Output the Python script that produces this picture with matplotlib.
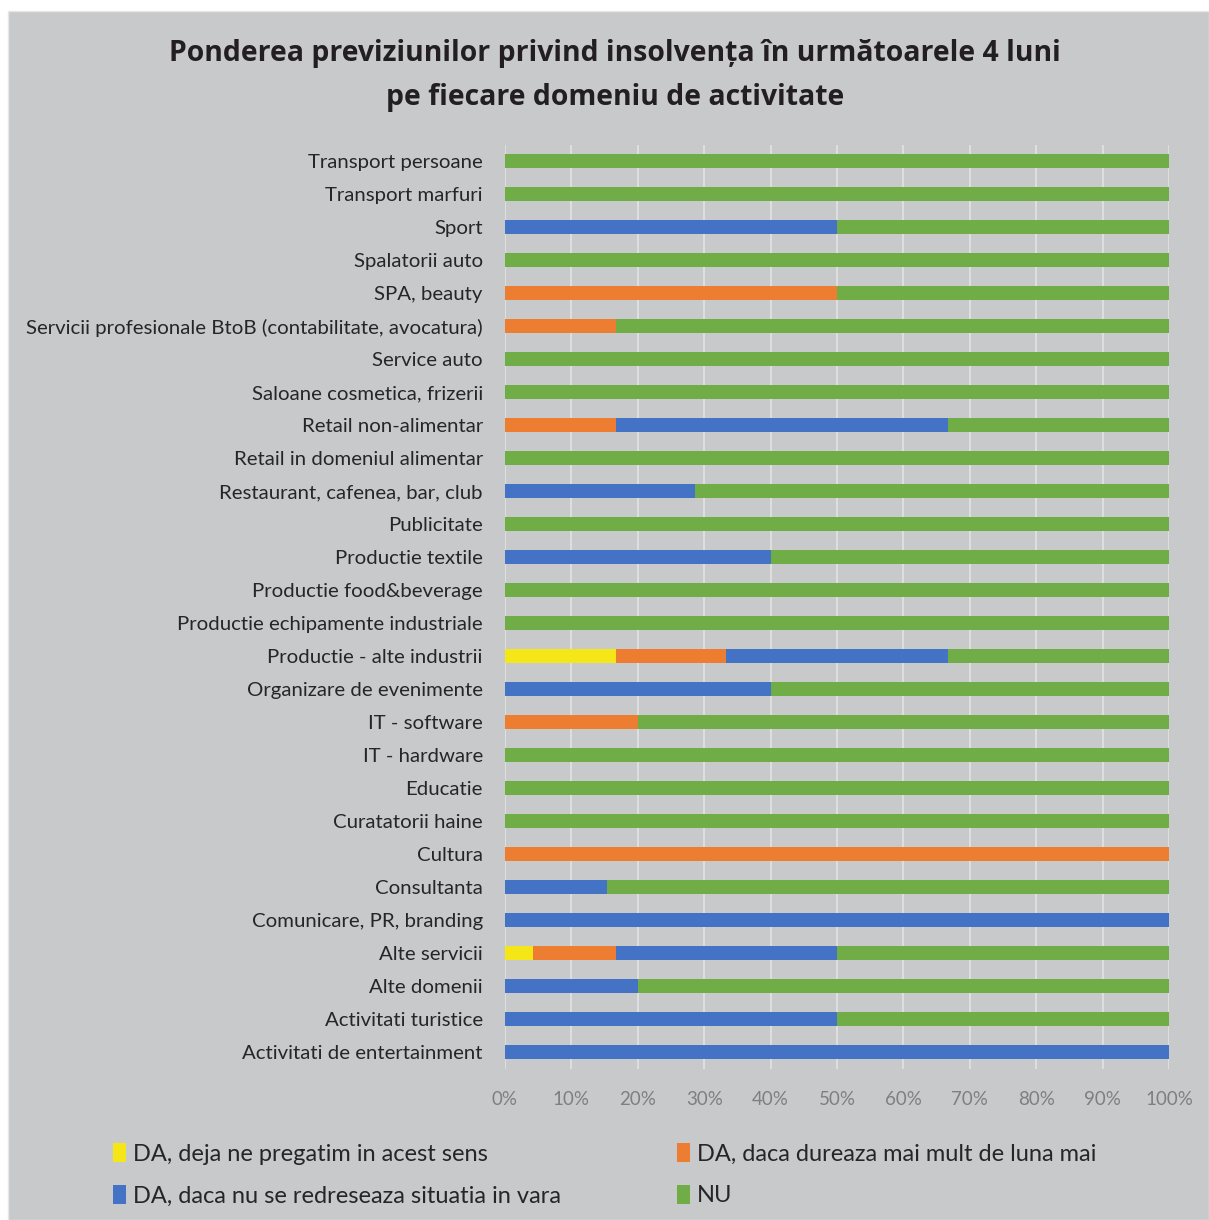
import numpy as np
import matplotlib.pyplot as plt
from matplotlib.patches import Rectangle, Patch

plt.rcParams['font.family'] = ['Lato', 'DejaVu Sans']

domenii = [
    'Transport persoane', 'Transport marfuri', 'Sport', 'Spalatorii auto',
    'SPA, beauty', 'Servicii profesionale BtoB (contabilitate, avocatura)',
    'Service auto', 'Saloane cosmetica, frizerii', 'Retail non-alimentar',
    'Retail in domeniul alimentar', 'Restaurant, cafenea, bar, club',
    'Publicitate', 'Productie textile', 'Productie food&beverage',
    'Productie echipamente industriale', 'Productie - alte industrii',
    'Organizare de evenimente', 'IT - software', 'IT - hardware', 'Educatie',
    'Curatatorii haine', 'Cultura', 'Consultanta', 'Comunicare, PR, branding',
    'Alte servicii', 'Alte domenii', 'Activitati turistice',
    'Activitati de entertainment',
]

# procente pe fiecare raspuns, in ordinea domeniilor de mai sus
da_deja = [0, 0, 0, 0, 0, 0, 0, 0, 0, 0, 0, 0, 0, 0, 0, 16.67,
           0, 0, 0, 0, 0, 0, 0, 0, 4.17, 0, 0, 0]
da_luna_mai = [0, 0, 0, 0, 50, 16.67, 0, 0, 16.67, 0, 0, 0, 0, 0, 0, 16.67,
               0, 20, 0, 0, 0, 100, 0, 0, 12.5, 0, 0, 0]
da_vara = [0, 0, 50, 0, 0, 0, 0, 0, 50, 0, 28.57, 0, 40, 0, 0, 33.33,
           40, 0, 0, 0, 0, 0, 15.38, 100, 33.33, 20, 50, 100]
nu = [100, 100, 50, 100, 50, 83.33, 100, 100, 33.33, 100, 71.43, 100, 60,
      100, 100, 33.33, 60, 80, 100, 100, 100, 0, 84.62, 0, 50, 80, 50, 0]

serii = [
    ('DA, deja ne pregatim in acest sens', da_deja, '#f5e617'),
    ('DA, daca dureaza mai mult de luna mai', da_luna_mai, '#ed7d31'),
    ('DA, daca nu se redreseaza situatia in vara', da_vara, '#4472c4'),
    ('NU', nu, '#70ad47'),
]

bg = '#c8c9cb'
W, H = 1209, 1220
fig = plt.figure(figsize=(W / 100, H / 100), dpi=100)
fig.patch.set_facecolor('white')
fig.add_artist(Rectangle((8 / W, 0), 1 - 8 / W, 1 - 11 / H,
                         transform=fig.transFigure, facecolor=bg,
                         edgecolor='#e6e6e6', lw=1, zorder=-10))

ax = fig.add_axes([505 / W, 1 - 1068.5 / H, 664 / W, 924 / H])
ax.set_facecolor(bg)

y = np.arange(len(domenii))
left = np.zeros(len(domenii))
handles = []
for nume, vals, culoare in serii:
    vals = np.array(vals)
    ax.barh(y, vals, left=left, height=0.4, color=culoare, zorder=3)
    left += vals
    handles.append(Patch(facecolor=culoare, label=nume))

ax.set_xlim(0, 100)
ax.set_ylim(len(domenii) - 0.5, -0.5)
ax.set_yticks(y)
ax.set_yticklabels(domenii, fontsize=14.7, color='#262626')
ax.set_xticks(np.arange(0, 101, 10))
ax.set_xticklabels([f'{v}%' for v in range(0, 101, 10)], fontsize=13.5,
                   color='#7f7f7f')
ax.tick_params(axis='y', length=0, pad=16)
ax.tick_params(axis='x', length=0, pad=16)
ax.grid(axis='x', color='#dedede', lw=1.5, zorder=0)
for s in ax.spines.values():
    s.set_visible(False)

fig.text(615 / W, 1 - 54 / H,
         'Ponderea previziunilor privind insolvența în următoarele 4 luni',
         ha='center', va='center', fontsize=20.4, fontweight='bold',
         color='#231f20', family=['Open Sans', 'DejaVu Sans'])
fig.text(615 / W, 1 - 97 / H, 'pe fiecare domeniu de activitate',
         ha='center', va='center', fontsize=20.4, fontweight='bold',
         color='#231f20', family=['Open Sans', 'DejaVu Sans'])

ordine = [handles[0], handles[2], handles[1], handles[3]]
fig.legend(handles=ordine, loc='upper left',
           bbox_to_anchor=(92 / W, 1 - 1122 / H), ncol=2, frameon=False,
           fontsize=17, handlelength=0.55, handleheight=0.85, handletextpad=0.3,
           columnspacing=4.9, labelspacing=0.85, labelcolor='#262626')

fig.savefig('out.png', dpi=100)
